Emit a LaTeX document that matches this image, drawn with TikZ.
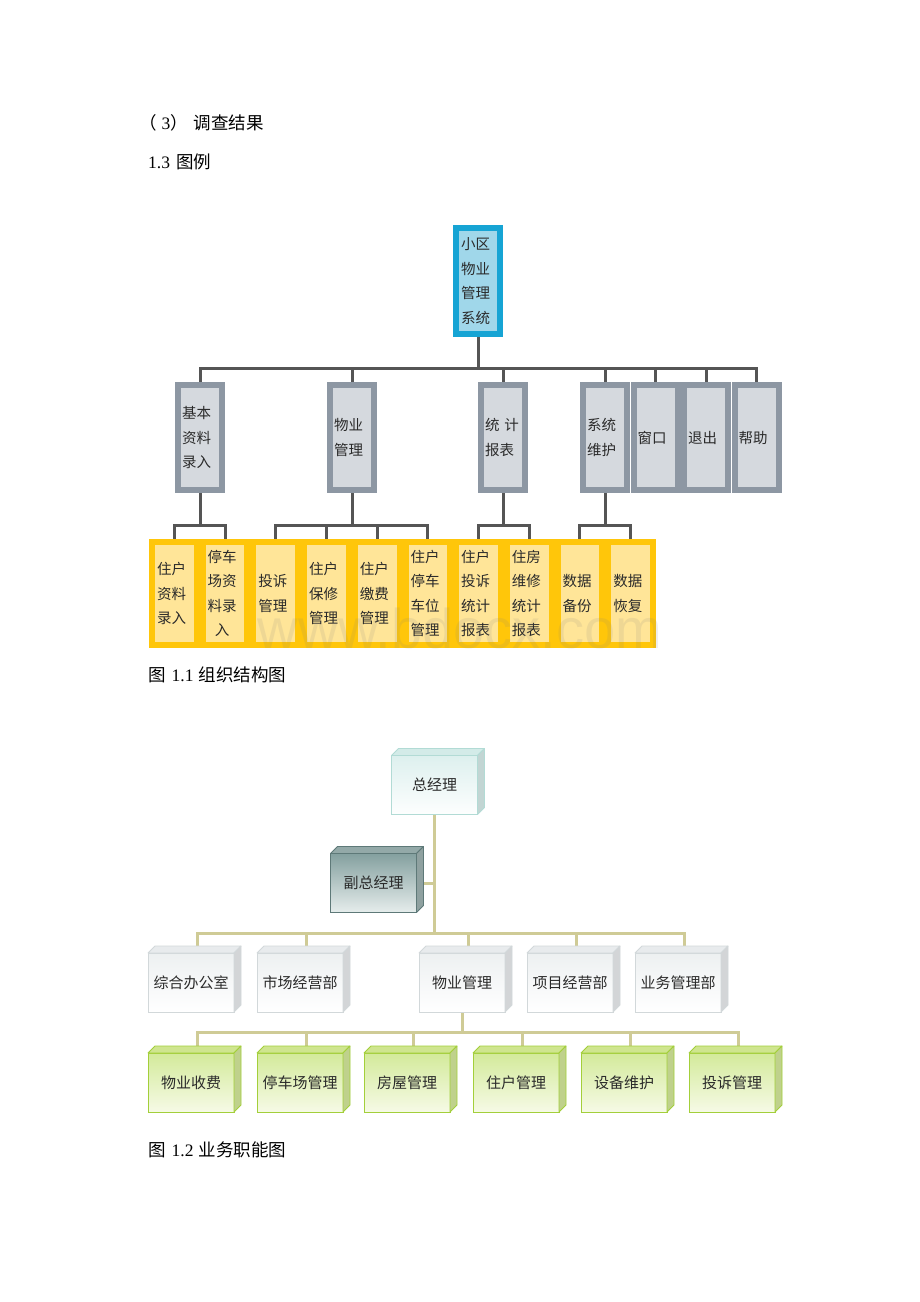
\documentclass[tikz,border=0pt]{standalone}
\usepackage{fontspec}
\setmainfont{Liberation Serif}
\newfontfamily\cjk{Noto Sans CJK SC}
\newfontfamily\wmfont{Liberation Sans}
\usetikzlibrary{calc}
\pgfdeclarelayer{bg}
\pgfsetlayers{bg,main}
\definecolor{rootborder}{HTML}{16A4D4}
\definecolor{rootfill}{HTML}{A0D7EA}
\definecolor{grayborder}{HTML}{8D97A3}
\definecolor{grayfill}{HTML}{D5D9DE}
\definecolor{yelborder}{HTML}{FFC60A}
\definecolor{yelfill}{HTML}{FFE598}
\definecolor{linegray}{HTML}{555555}
\definecolor{khaki}{HTML}{CFCB96}
\definecolor{gmborder}{HTML}{B2DBD5}
\definecolor{gmtop}{HTML}{DDF0EE}
\definecolor{gmface}{HTML}{D3EBE8}
\definecolor{vgborder}{HTML}{5E7978}
\definecolor{vgtop}{HTML}{84A09F}
\definecolor{vgbot}{HTML}{E6EDEC}
\definecolor{vgface}{HTML}{93A9A8}
\definecolor{dborder}{HTML}{D2D8DA}
\definecolor{dtop}{HTML}{EDF0F1}
\definecolor{dface}{HTML}{E8EBED}
\definecolor{gborder}{HTML}{A3CF3A}
\definecolor{gtop}{HTML}{D3EA9A}
\definecolor{gbot}{HTML}{F6FAE6}
\definecolor{gface}{HTML}{CFE58F}
\definecolor{textdark}{HTML}{2A2A2A}
\newcommand\boxthreed[3]{%
  \filldraw[fill=#2, draw=#3, line width=0.8pt, line join=round] (#1.north west) -- ++(7,-7) -- ([shift={(7,-7)}]#1.north east) -- (#1.north east) -- cycle;
  \filldraw[fill=#2!80!gray, draw=#3, line width=0.8pt, line join=round] (#1.north east) -- ++(7,-7) -- ([shift={(7,-7)}]#1.south east) -- (#1.south east) -- cycle;}
\begin{document}
\begin{tikzpicture}[x=1pt,y=-1pt,
  tbox/.style={line width=6pt, inner xsep=0pt, inner ysep=0pt, outer sep=0pt, align=left,
    font=\cjk\fontsize{14.5}{24.5}\selectfont, text=textdark},
  rootbox/.style={tbox, draw=rootborder, fill=rootfill, minimum width=44pt, minimum height=106pt, text width=34pt},
  graybox/.style={tbox, draw=grayborder, fill=grayfill, minimum width=44pt, minimum height=105pt, text width=36pt},
  yelbox/.style={tbox, draw=yelborder, fill=yelfill, minimum width=44.7pt, minimum height=103pt, text width=34.7pt},
  conn/.style={draw=linegray, line width=3pt},
  kline/.style={draw=khaki, line width=3pt},
  cubebox/.style={minimum width=86pt, minimum height=59pt, inner sep=0pt, outer sep=0pt,
    font=\cjk\fontsize{15}{18}\selectfont, line width=0.8pt, text=textdark},
  gmbox/.style={cubebox, draw=gmborder, top color=gmtop, bottom color=white!95!gmtop},
  vgbox/.style={cubebox, draw=vgborder, top color=vgtop, bottom color=vgbot},
  dbox/.style={cubebox, draw=dborder, top color=dtop, bottom color=white},
  gbox/.style={cubebox, draw=gborder, top color=gtop, bottom color=gbot},
  captext/.style={anchor=west, inner sep=0pt, font=\fontsize{17.5}{20}\selectfont, text=black}
]
\useasboundingbox (0,0) rectangle (920,1302);
\begin{pgfonlayer}{bg}
\fill[white] (0,0) rectangle (920,1302);
\end{pgfonlayer}

% captions
\node[captext] (cap1) at (139,123) {{\cjk （}\hspace{5pt}3{\cjk ）}\hspace{6pt}{\cjk 调查结果}};
\node[captext] (cap2) at (148,162) {1.3\hspace{6pt}{\cjk 图例}};
\node[captext] (cap3) at (148,675) {{\cjk 图}\hspace{6pt}1.1\hspace{5pt}{\cjk 组织结构图}};
\node[captext] (cap4) at (148,1150) {{\cjk 图}\hspace{6pt}1.2\hspace{5pt}{\cjk 业务职能图}};

% ===== diagram 1 =====
\node[rootbox] (root) at (478,281) {小区\\物业\\管理\\系统};

\node[graybox] (b1) at (200,437.5) {基本\\资料\\录入};
\node[graybox] (b2) at (352,437.5) {物业\\管理};
\node[graybox] (b3) at (503,437.5) {统\,\,计\\报表};
\node[graybox] (b4) at (605,437.5) {系统\\维护};
\node[graybox] (b5) at (655.5,437.5) {窗口};
\node[graybox] (b6) at (706,437.5) {退出};
\node[graybox] (b7) at (756.5,437.5) {帮助};

\node[yelbox] (c1) at (174.35,593.5) {住户\\资料\\录入};
\node[yelbox] (c2) at (225.05,593.5) {停车\\场资\\料录\\\hspace*{0.5em}入};
\node[yelbox] (c3) at (275.75,593.5) {投诉\\管理};
\node[yelbox] (c4) at (326.45,593.5) {住户\\保修\\管理};
\node[yelbox] (c5) at (377.15,593.5) {住户\\缴费\\管理};
\node[yelbox] (c6) at (427.85,593.5) {住户\\停车\\车位\\管理};
\node[yelbox] (c7) at (478.55,593.5) {住户\\投诉\\统计\\报表};
\node[yelbox] (c8) at (529.25,593.5) {住房\\维修\\统计\\报表};
\node[yelbox] (c9) at (579.95,593.5) {数据\\备份};
\node[yelbox] (c10) at (630.65,593.5) {数据\\恢复};

\coordinate (busA) at (478,368);
\coordinate (busB1) at (200,525);
\coordinate (busB2) at (352,525);
\coordinate (busB3) at (503,525);
\coordinate (busB4) at (605,525);

\begin{pgfonlayer}{bg}
\draw[conn] (root.south) -- (busA);
\draw[conn] (b1.north) |- (busA) -| (b7.north);
\foreach \n in {b2,b3,b4,b5,b6} \draw[conn] (\n.north) -- (\n.north |- busA);
\draw[conn] (b1.south) -- (busB1);
\draw[conn] (c1.north) |- (busB1) -| (c2.north);
\draw[conn] (b2.south) -- (busB2);
\draw[conn] (c3.north) |- (busB2) -| (c6.north);
\foreach \n in {c4,c5} \draw[conn] (\n.north) -- (\n.north |- busB2);
\draw[conn] (b3.south) -- (busB3);
\draw[conn] (c7.north) |- (busB3) -| (c8.north);
\draw[conn] (b4.south) -- (busB4);
\draw[conn] (c9.north) |- (busB4) -| (c10.north);
\end{pgfonlayer}

% ===== diagram 2 =====
\node[gmbox] (gm) at (434.5,785) {总经理};
\boxthreed{gm}{gmface}{gmborder}
\node[vgbox] (vgm) at (373.5,883) {副总经理};
\boxthreed{vgm}{vgface}{vgborder}

\node[dbox] (d1) at (191,982.5) {综合办公室};
\node[dbox] (d2) at (300,982.5) {市场经营部};
\node[dbox] (d3) at (462,982.5) {物业管理};
\node[dbox] (d4) at (570,982.5) {项目经营部};
\node[dbox] (d5) at (678,982.5) {业务管理部};
\foreach \n in {d1,d2,d3,d4,d5} {\boxthreed{\n}{dface}{dborder}}

\node[gbox] (g1) at (191,1082.5) {物业收费};
\node[gbox] (g2) at (300,1082.5) {停车场管理};
\node[gbox] (g3) at (407,1082.5) {房屋管理};
\node[gbox] (g4) at (516,1082.5) {住户管理};
\node[gbox] (g5) at (624,1082.5) {设备维护};
\node[gbox] (g6) at (732,1082.5) {投诉管理};
\foreach \n in {g1,g2,g3,g4,g5,g6} {\boxthreed{\n}{gface}{gborder}}

\coordinate (busC) at (434.5,933);
\coordinate (busD) at (462,1032);
\begin{pgfonlayer}{bg}
\draw[kline] (gm.south) -- (busC);
\draw[kline] ([xshift=7pt]vgm.east) -- (vgm.east -| gm.south);
\draw[kline] ([xshift=6pt]d1.north) |- (busC) -| ([xshift=6pt]d5.north);
\foreach \n in {d2,d3,d4} \draw[kline] ([xshift=6pt]\n.north) -- ([xshift=6pt]\n.north |- busC);
\draw[kline] (d3.south) -- (busD);
\draw[kline] ([xshift=6pt]g1.north) |- (busD) -| ([xshift=6pt]g6.north);
\foreach \n in {g2,g3,g4,g5} \draw[kline] ([xshift=6pt]\n.north) -- ([xshift=6pt]\n.north |- busD);
\end{pgfonlayer}

% watermark
\node[font=\wmfont\fontsize{56}{56}\selectfont, text=gray, opacity=0.13, inner sep=0pt] (wm) at (460,628) {www.bdocx.com};
\end{tikzpicture}
\end{document}
